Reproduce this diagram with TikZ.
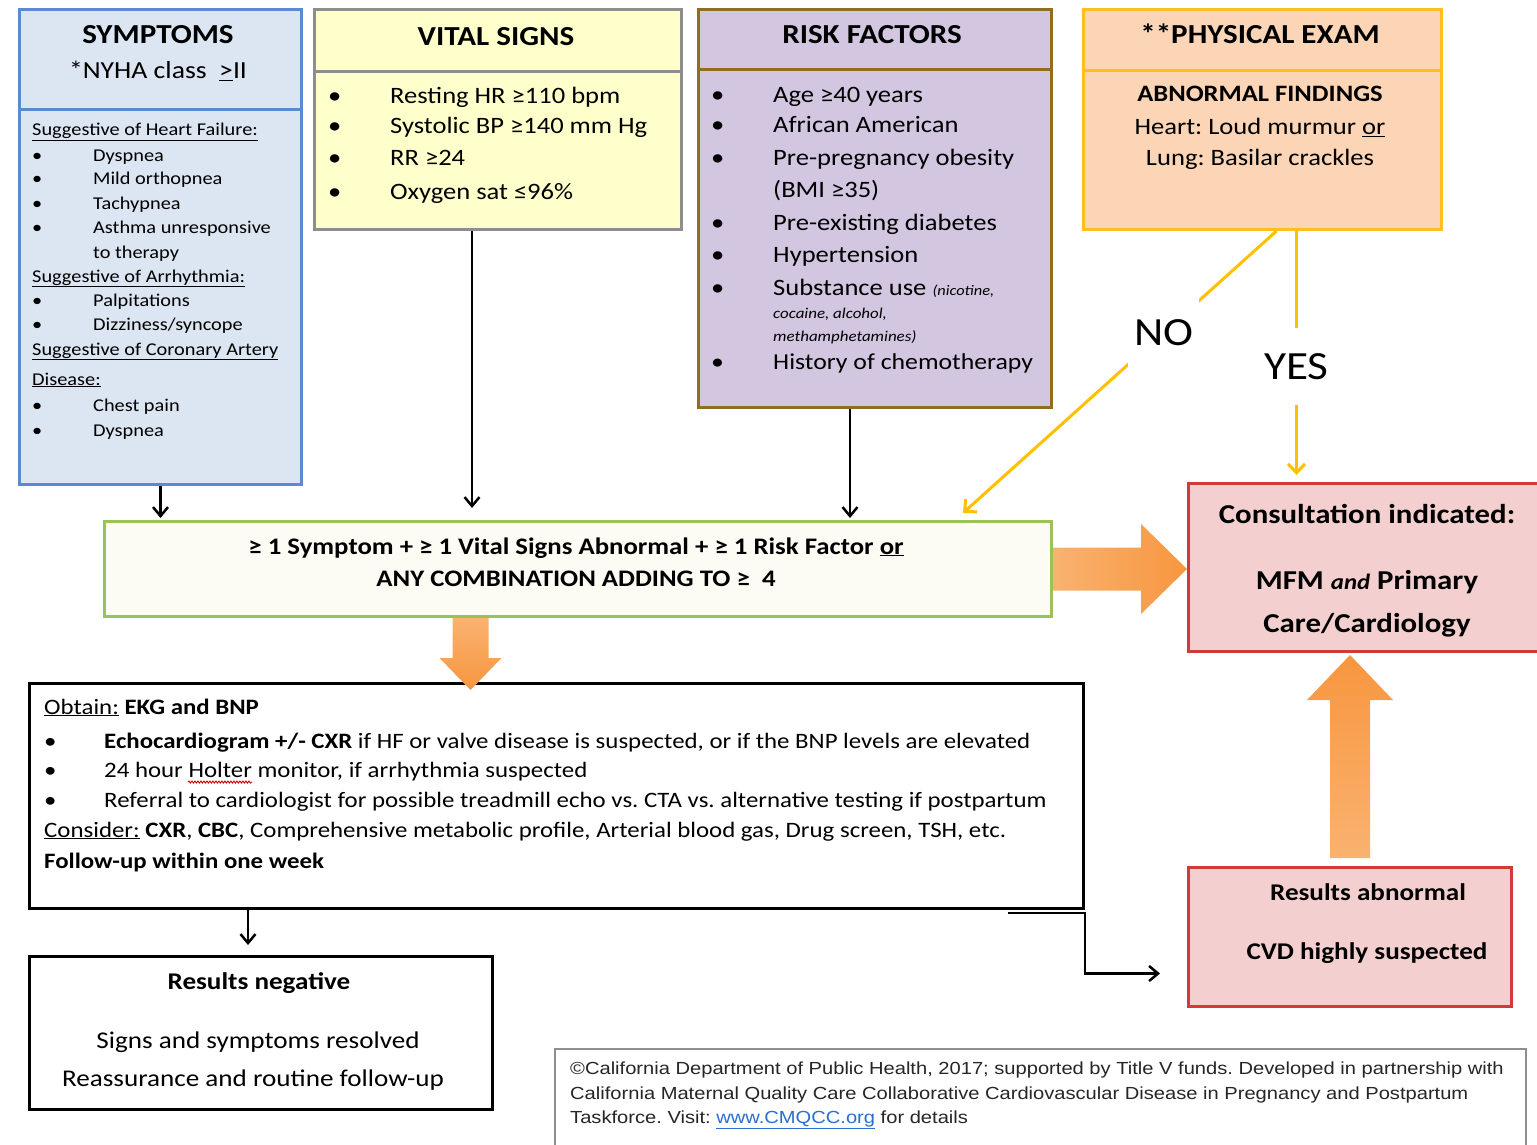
\documentclass[tikz,border=0pt]{standalone}
\usepackage{fontspec}
\setmainfont{Carlito}[FakeStretch=1.13]
\newfontfamily\arialf{Liberation Sans}[FakeStretch=1.15]
\usetikzlibrary{arrows.meta,calc,decorations.pathmorphing}
\definecolor{symB}{HTML}{5A8AD0}
\definecolor{symF}{HTML}{DCE6F2}
\definecolor{vsB}{HTML}{8E8E8E}
\definecolor{vsF}{HTML}{FFFFCB}
\definecolor{rfB}{HTML}{8F6E1F}
\definecolor{rfF}{HTML}{D2C6E1}
\definecolor{peB}{HTML}{FFBF1F}
\definecolor{peF}{HTML}{FBD5B6}
\definecolor{grB}{HTML}{9BC159}
\definecolor{grF}{HTML}{FCFCF4}
\definecolor{rdB}{HTML}{D23A3A}
\definecolor{rdF}{HTML}{F3CFCF}
\definecolor{orA}{HTML}{F8963F}
\definecolor{orL}{HTML}{F9B270}
\definecolor{linkB}{HTML}{2A6FD0}
\definecolor{yel}{HTML}{FFC000}
\begin{document}
\frenchspacing
\begin{tikzpicture}[x=1pt,y=-1pt,
  box/.style={inner sep=0pt, anchor=north west, line width=3pt},
  tx/.style={inner sep=0pt, anchor=base west},
  tc/.style={inner sep=0pt, anchor=base},
  fs/.style={font=\fontsize{#1}{#1}\selectfont\frenchspacing},
  fsb/.style={font=\fontsize{#1}{#1}\selectfont\bfseries\frenchspacing},
  blk/.style={line width=2.5pt, -{Straight Barb[length=9pt,width=15pt]}},
  yl/.style={line width=3pt, yel, -{Straight Barb[length=9pt,width=17pt]}},
  lbl/.style={fill=white, inner xsep=6pt, inner ysep=25pt, text=black, font=\fontsize{40}{40}\selectfont}
]
\useasboundingbox (0,0) rectangle (1537,1145);
\fill[white] (0,0) rectangle (1537,1145);

% ---------- SYMPTOMS ----------
\node[box, draw=symB, fill=symF, minimum width=282pt, minimum height=475pt] (sym) at (18,8) {};
\draw[line width=3pt, symB] (18,110) -- (300,110);
\node[tc, fsb=27.5] (symh) at (158,44) {SYMPTOMS};
\node[tc, fs=24.5] (nyha) at (158,79) {*NYHA class\ \ \underline{>}II};
\node[tx, fs=18] (s1) at (32,136) {\underline{Suggestive of Heart Failure:}};
\node[tx, fs=18] (s2b) at (32,161) {•};
\node[tx, fs=18] (s2) at (93,161) {Dyspnea};
\node[tx, fs=18] (s3b) at (32,185) {•};
\node[tx, fs=18] (s3) at (93,185) {Mild orthopnea};
\node[tx, fs=18] (s4b) at (32,209) {•};
\node[tx, fs=18] (s4) at (93,209) {Tachypnea};
\node[tx, fs=18] (s5b) at (32,233) {•};
\node[tx, fs=18] (s5) at (93,233) {Asthma unresponsive};
\node[tx, fs=18] (s6) at (93,258) {to therapy};
\node[tx, fs=18] (s7) at (32,282) {\underline{Suggestive of Arrhythmia:}};
\node[tx, fs=18] (s8b) at (32,306) {•};
\node[tx, fs=18] (s8) at (93,306) {Palpitations};
\node[tx, fs=18] (s9b) at (32,330) {•};
\node[tx, fs=18] (s9) at (93,330) {Dizziness/syncope};
\node[tx, fs=18] (s10) at (32,355) {\underline{Suggestive of Coronary Artery}};
\node[tx, fs=18] (s11) at (32,385) {\underline{Disease:}};
\node[tx, fs=18] (s12b) at (32,411) {•};
\node[tx, fs=18] (s12) at (93,411) {Chest pain};
\node[tx, fs=18] (s13b) at (32,436) {•};
\node[tx, fs=18] (s13) at (93,436) {Dyspnea};

% ---------- VITAL SIGNS ----------
\node[box, draw=vsB, fill=vsF, minimum width=367pt, minimum height=220pt] (vs) at (313,8) {};
\draw[line width=3pt, vsB] (313,72) -- (680,72);
\node[tc, fsb=27.5] (vsh) at (496,46) {VITAL SIGNS};
\node[tx, fs=23.5] (v1b) at (328,104) {•};
\node[tx, fs=23.5] (v1) at (390,104) {Resting HR ≥110 bpm};
\node[tx, fs=23.5] (v2b) at (328,134) {•};
\node[tx, fs=23.5] (v2) at (390,134) {Systolic BP ≥140 mm Hg};
\node[tx, fs=23.5] (v3b) at (328,166) {•};
\node[tx, fs=23.5] (v3) at (390,166) {RR ≥24};
\node[tx, fs=23.5] (v4b) at (328,199) {•};
\node[tx, fs=23.5] (v4) at (390,199) {Oxygen sat ≤96\%};

% ---------- RISK FACTORS ----------
\node[box, draw=rfB, fill=rfF, minimum width=353pt, minimum height=398pt] (rf) at (697,8) {};
\draw[line width=3pt, rfB] (697,70) -- (1050,70);
\node[tc, fsb=27.5] (rfh) at (872,44) {RISK FACTORS};
\node[tx, fs=23.5] (r1b) at (711,103) {•};
\node[tx, fs=23.5] (r1) at (773,103) {Age ≥40 years};
\node[tx, fs=23.5] (r2b) at (711,133) {•};
\node[tx, fs=23.5] (r2) at (773,133) {African American};
\node[tx, fs=23.5] (r3b) at (711,165) {•};
\node[tx, fs=23.5] (r3) at (773,165) {Pre-pregnancy obesity};
\node[tx, fs=23.5] (r4) at (773,197) {(BMI ≥35)};
\node[tx, fs=23.5] (r5b) at (711,230) {•};
\node[tx, fs=23.5] (r5) at (773,230) {Pre-existing diabetes};
\node[tx, fs=23.5] (r6b) at (711,262) {•};
\node[tx, fs=23.5] (r6) at (773,262) {Hypertension};
\node[tx, fs=23.5] (r7b) at (711,295) {•};
\node[tx, fs=23.5] (r7) at (773,295) {Substance use {\fontsize{14.5}{14.5}\selectfont\itshape (nicotine,}};
\node[tx, fs=15] (r8) at (773,318) {\itshape cocaine, alcohol,};
\node[tx, fs=15] (r9) at (773,341) {\itshape methamphetamines)};
\node[tx, fs=22.8] (r10b) at (711,369) {•};
\node[tx, fs=22.8] (r10) at (773,369) {History of chemotherapy};

% ---------- PHYSICAL EXAM ----------
\node[box, draw=peB, fill=peF, minimum width=358pt, minimum height=220pt] (pe) at (1082,8) {};
\draw[line width=3pt, peB] (1082,71) -- (1440,71);
\node[tc, fsb=27.5] (peh) at (1260,44) {**PHYSICAL EXAM};
\node[tc, fsb=23.5] (p1) at (1260,102) {ABNORMAL FINDINGS};
\node[tc, fs=23.5] (p2) at (1260,135) {Heart: Loud murmur \underline{or}};
\node[tc, fs=23.5] (p3) at (1260,165) {Lung: Basilar crackles};

% ---------- CRITERIA ----------
\node[box, draw=grB, fill=grF, minimum width=947pt, minimum height=95pt] (gr) at (103,520) {};
\node[tc, fsb=23.7] (g1) at (576,554) {≥ 1 Symptom + ≥ 1 Vital Signs Abnormal + ≥ 1 Risk Factor \underline{or}};
\node[tc, fsb=23.7] (g2) at (576,586) {ANY COMBINATION ADDING TO ≥\ \ 4};

% ---------- CONSULTATION ----------
\node[box, draw=rdB, fill=rdF, minimum width=360pt, minimum height=168pt] (cons) at (1187,482) {};
\node[tc, fsb=27.3] (c1) at (1367,523) {Consultation indicated:};
\node[tc, fsb=27.3] (c2) at (1367,589) {MFM {\fontsize{22}{22}\selectfont\itshape and} Primary};
\node[tc, fsb=27.3] (c3) at (1367,632) {Care/Cardiology};

% ---------- OBTAIN ----------
\node[box, draw=black, minimum width=1054pt, minimum height=225pt] (ob) at (28,682) {};
\node[tx, fs=22] (o1) at (44,714) {\underline{Obtain:} \textbf{EKG and BNP}};
\node[tx, fs=22] (o2b) at (44,748) {•};
\node[tx, fs=22] (o2) at (104,748) {\textbf{Echocardiogram +/- CXR} if HF or valve disease is suspected, or if the BNP levels are elevated};
\node[tx, fs=22] (o3b) at (44,777) {•};
\node[tx, fs=22] (o3) at (104,777) {24 hour Holter monitor, if arrhythmia suspected};
\node[tx, fs=22] (o4b) at (44,807) {•};
\node[tx, fs=22] (o4) at (104,807) {Referral to cardiologist for possible treadmill echo vs. CTA vs. alternative testing if postpartum};
\node[tx, fs=22] (o5) at (44,837) {\underline{Consider:} \textbf{CXR}, \textbf{CBC}, Comprehensive metabolic profile, Arterial blood gas, Drug screen, TSH, etc.};
\node[tx, fsb=22] (o6) at (44,868) {Follow-up within one week};
\draw[red!80!black, line width=0.9pt, decorate, decoration={snake, amplitude=1pt, segment length=3pt}]
  ([xshift=84pt,yshift=-5pt]o3.base west) -- ([xshift=148pt,yshift=-5pt]o3.base west);

% ---------- RESULTS ----------
\node[box, draw=black, minimum width=463pt, minimum height=153pt] (neg) at (28,955) {};
\node[tc, fsb=24] (n1) at (259,989) {Results negative};
\node[tc, fs=24] (n2) at (258,1048) {Signs and symptoms resolved};
\node[tc, fs=24] (n3) at (253,1086) {Reassurance and routine follow-up};

\node[box, draw=rdB, fill=rdF, minimum width=323pt, minimum height=139pt] (abn) at (1187,866) {};
\node[tc, fsb=24] (a1) at (1368,900) {Results abnormal};
\node[tc, fsb=24] (a2) at (1367,959) {CVD highly suspected};

% ---------- FOOTER ----------
\node[box, draw=vsB, line width=1.5pt, minimum width=971pt, minimum height=110pt] (ft) at (554,1048) {};
\node[tx, font=\arialf\fontsize{17.5}{17.5}\selectfont\frenchspacing, text=black!85] (f1) at (570,1074) {©California Department of Public Health, 2017; supported by Title V funds. Developed in partnership with};
\node[tx, font=\arialf\fontsize{17.5}{17.5}\selectfont\frenchspacing, text=black!85] (f2) at (570,1099) {California Maternal Quality Care Collaborative Cardiovascular Disease in Pregnancy and Postpartum};
\node[tx, font=\arialf\fontsize{17.5}{17.5}\selectfont\frenchspacing, text=black!85] (f3) at (570,1123) {Taskforce. Visit: {\color{linkB}\underline{www.CMQCC.org}} for details};

% ---------- BLACK CONNECTORS ----------
\draw[blk, shorten >=2pt] (sym.south) -- (sym.south |- gr.north);
\coordinate (va) at ([xshift=-26pt]vs.south);
\draw[blk, shorten >=12pt] (va) -- (va |- gr.north);
\coordinate (ra) at ([xshift=-25pt]rf.south);
\draw[blk, shorten >=2pt] (ra) -- (ra |- gr.north);
\coordinate (na) at ([xshift=-13pt]neg.north);
\draw[blk, shorten >=10pt] (na |- ob.south) -- (na);
\coordinate (e0) at ([xshift=-77pt,yshift=-3pt]ob.south east);
\coordinate (e1) at ([xshift=-27pt,yshift=-36.5pt]abn.west);
\draw[blk] (e0) -- ([yshift=-3pt]ob.south east) |- (e1);

% ---------- YELLOW CONNECTORS ----------
\coordinate (pn) at ([xshift=14pt]pe.south);
\coordinate (nt) at ([xshift=-90pt,yshift=7pt]gr.north east);
\draw[yl] (pn) -- node[pos=0.36, lbl] (no) {NO} (nt);
\coordinate (py) at ([xshift=34pt]pe.south);
\draw[yl, shorten >=7pt] (py) -- node[pos=0.54, lbl] (yes) {YES} (py |- cons.north);

% ---------- BLOCK ARROWS ----------
\coordinate (rt) at (cons.west |- gr.east);
\shade[left color=orL, right color=orA]
  ($(gr.east)+(0,21.5)$) -- ($(rt)+(-46,21.5)$) -- ($(rt)+(-46,45)$) -- (rt)
  -- ($(rt)+(-46,-45)$) -- ($(rt)+(-46,-21.5)$) -- ($(gr.east)+(0,-21.5)$) -- cycle;
\coordinate (da) at ([xshift=-107.5pt]gr.south);
\coordinate (dt) at ($(da |- ob.north)+(0,8)$);
\shade[top color=orL, bottom color=orA]
  ($(da)+(-18,0)$) -- ($(dt)+(-18,-32)$) -- ($(dt)+(-31,-32)$) -- (dt)
  -- ($(dt)+(31,-32)$) -- ($(dt)+(18,-32)$) -- ($(da)+(18,0)$) -- cycle;
\coordinate (ua) at ($(abn.north)+(0,-8)$);
\coordinate (ut) at ($(cons.south -| abn.north)+(0,2)$);
\shade[top color=orA, bottom color=orL]
  ($(ua)+(-20,0)$) -- ($(ut)+(-20,45)$) -- ($(ut)+(-43,45)$) -- (ut)
  -- ($(ut)+(43,45)$) -- ($(ut)+(20,45)$) -- ($(ua)+(20,0)$) -- cycle;
\end{tikzpicture}
\end{document}
